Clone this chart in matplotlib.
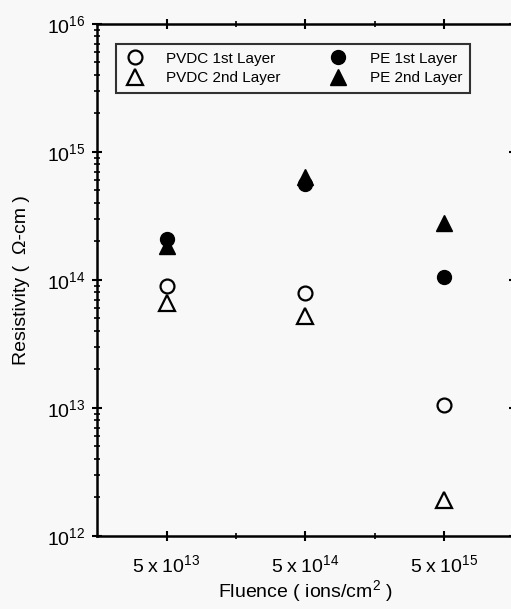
import matplotlib
matplotlib.use("Agg")
import matplotlib.pyplot as plt
from matplotlib.ticker import FixedLocator, LogLocator, NullFormatter

plt.rcParams['font.family'] = ['Liberation Sans', 'DejaVu Sans']
plt.rcParams['mathtext.fontset'] = 'custom'
plt.rcParams['mathtext.rm'] = 'Liberation Sans'
plt.rcParams['mathtext.it'] = 'Liberation Sans'

fluence_labels = [r"$5\;\mathrm{x}\;10^{13}$", r"$5\;\mathrm{x}\;10^{14}$", r"$5\;\mathrm{x}\;10^{15}$"]
pvdc_1st = [8.9e13, 7.9e13, 1.05e13]
pvdc_2nd = [6.6e13, 5.2e13, 1.9e12]
pe_1st = [2.1e14, 5.6e14, 1.05e14]
pe_2nd = [1.85e14, 6.3e14, 2.8e14]

fig = plt.figure(figsize=(5.11, 6.09), dpi=100, facecolor='#f8f8f8')
ax = fig.add_axes([0.19, 0.12, 0.815, 0.841])
ax.set_facecolor('#f8f8f8')
x = list(range(len(fluence_labels)))

ax.plot(x, pvdc_1st, 'o', mfc='none', mec='black', mew=1.6, ms=10, ls='none', label='PVDC 1st Layer')
ax.plot(x, pvdc_2nd, '^', mfc='none', mec='black', mew=1.6, ms=11, ls='none', label='PVDC 2nd Layer')
ax.plot(x, pe_1st, 'o', mfc='black', mec='black', ms=10, ls='none', label='PE 1st Layer')
ax.plot(x, pe_2nd, '^', mfc='black', mec='black', ms=11, ls='none', label='PE 2nd Layer')

ax.set_yscale('log')
ax.set_ylim(1e12, 1e16)
ax.set_xlim(-0.5, 2.5)
ax.set_xticks(x)
ax.set_xticklabels(fluence_labels, fontsize=14)
ax.xaxis.set_minor_locator(FixedLocator([0.5, 1.5]))
ax.yaxis.set_minor_locator(LogLocator(base=10, subs=range(2, 10), numticks=20))
ax.yaxis.set_minor_formatter(NullFormatter())
ax.tick_params(axis='both', which='major', direction='inout', length=7, width=1.5, top=True, right=True, labelsize=14, pad=5)
ax.tick_params(axis='x', which='major', pad=10)
ax.tick_params(axis='both', which='minor', direction='inout', length=4, width=1.2, top=True, right=True)
for s in ax.spines.values():
    s.set_linewidth(1.8)

ax.set_xlabel("Fluence ( ions/cm$^{2}$ )", fontsize=14, labelpad=1)
ax.set_ylabel("Resistivity (  Ω-cm )", fontsize=14, labelpad=12)

leg = ax.legend(ncol=2, loc='upper center', bbox_to_anchor=(0.47, 0.975), fontsize=11,
                frameon=True, fancybox=False, edgecolor='black', facecolor='#f8f8f8',
                handletextpad=1.3, columnspacing=3.0, borderpad=0.5, labelspacing=0.35,
                handlelength=1.5)
leg.get_frame().set_linewidth(1.5)

fig.savefig('out.png', dpi=100, facecolor='#f8f8f8')
